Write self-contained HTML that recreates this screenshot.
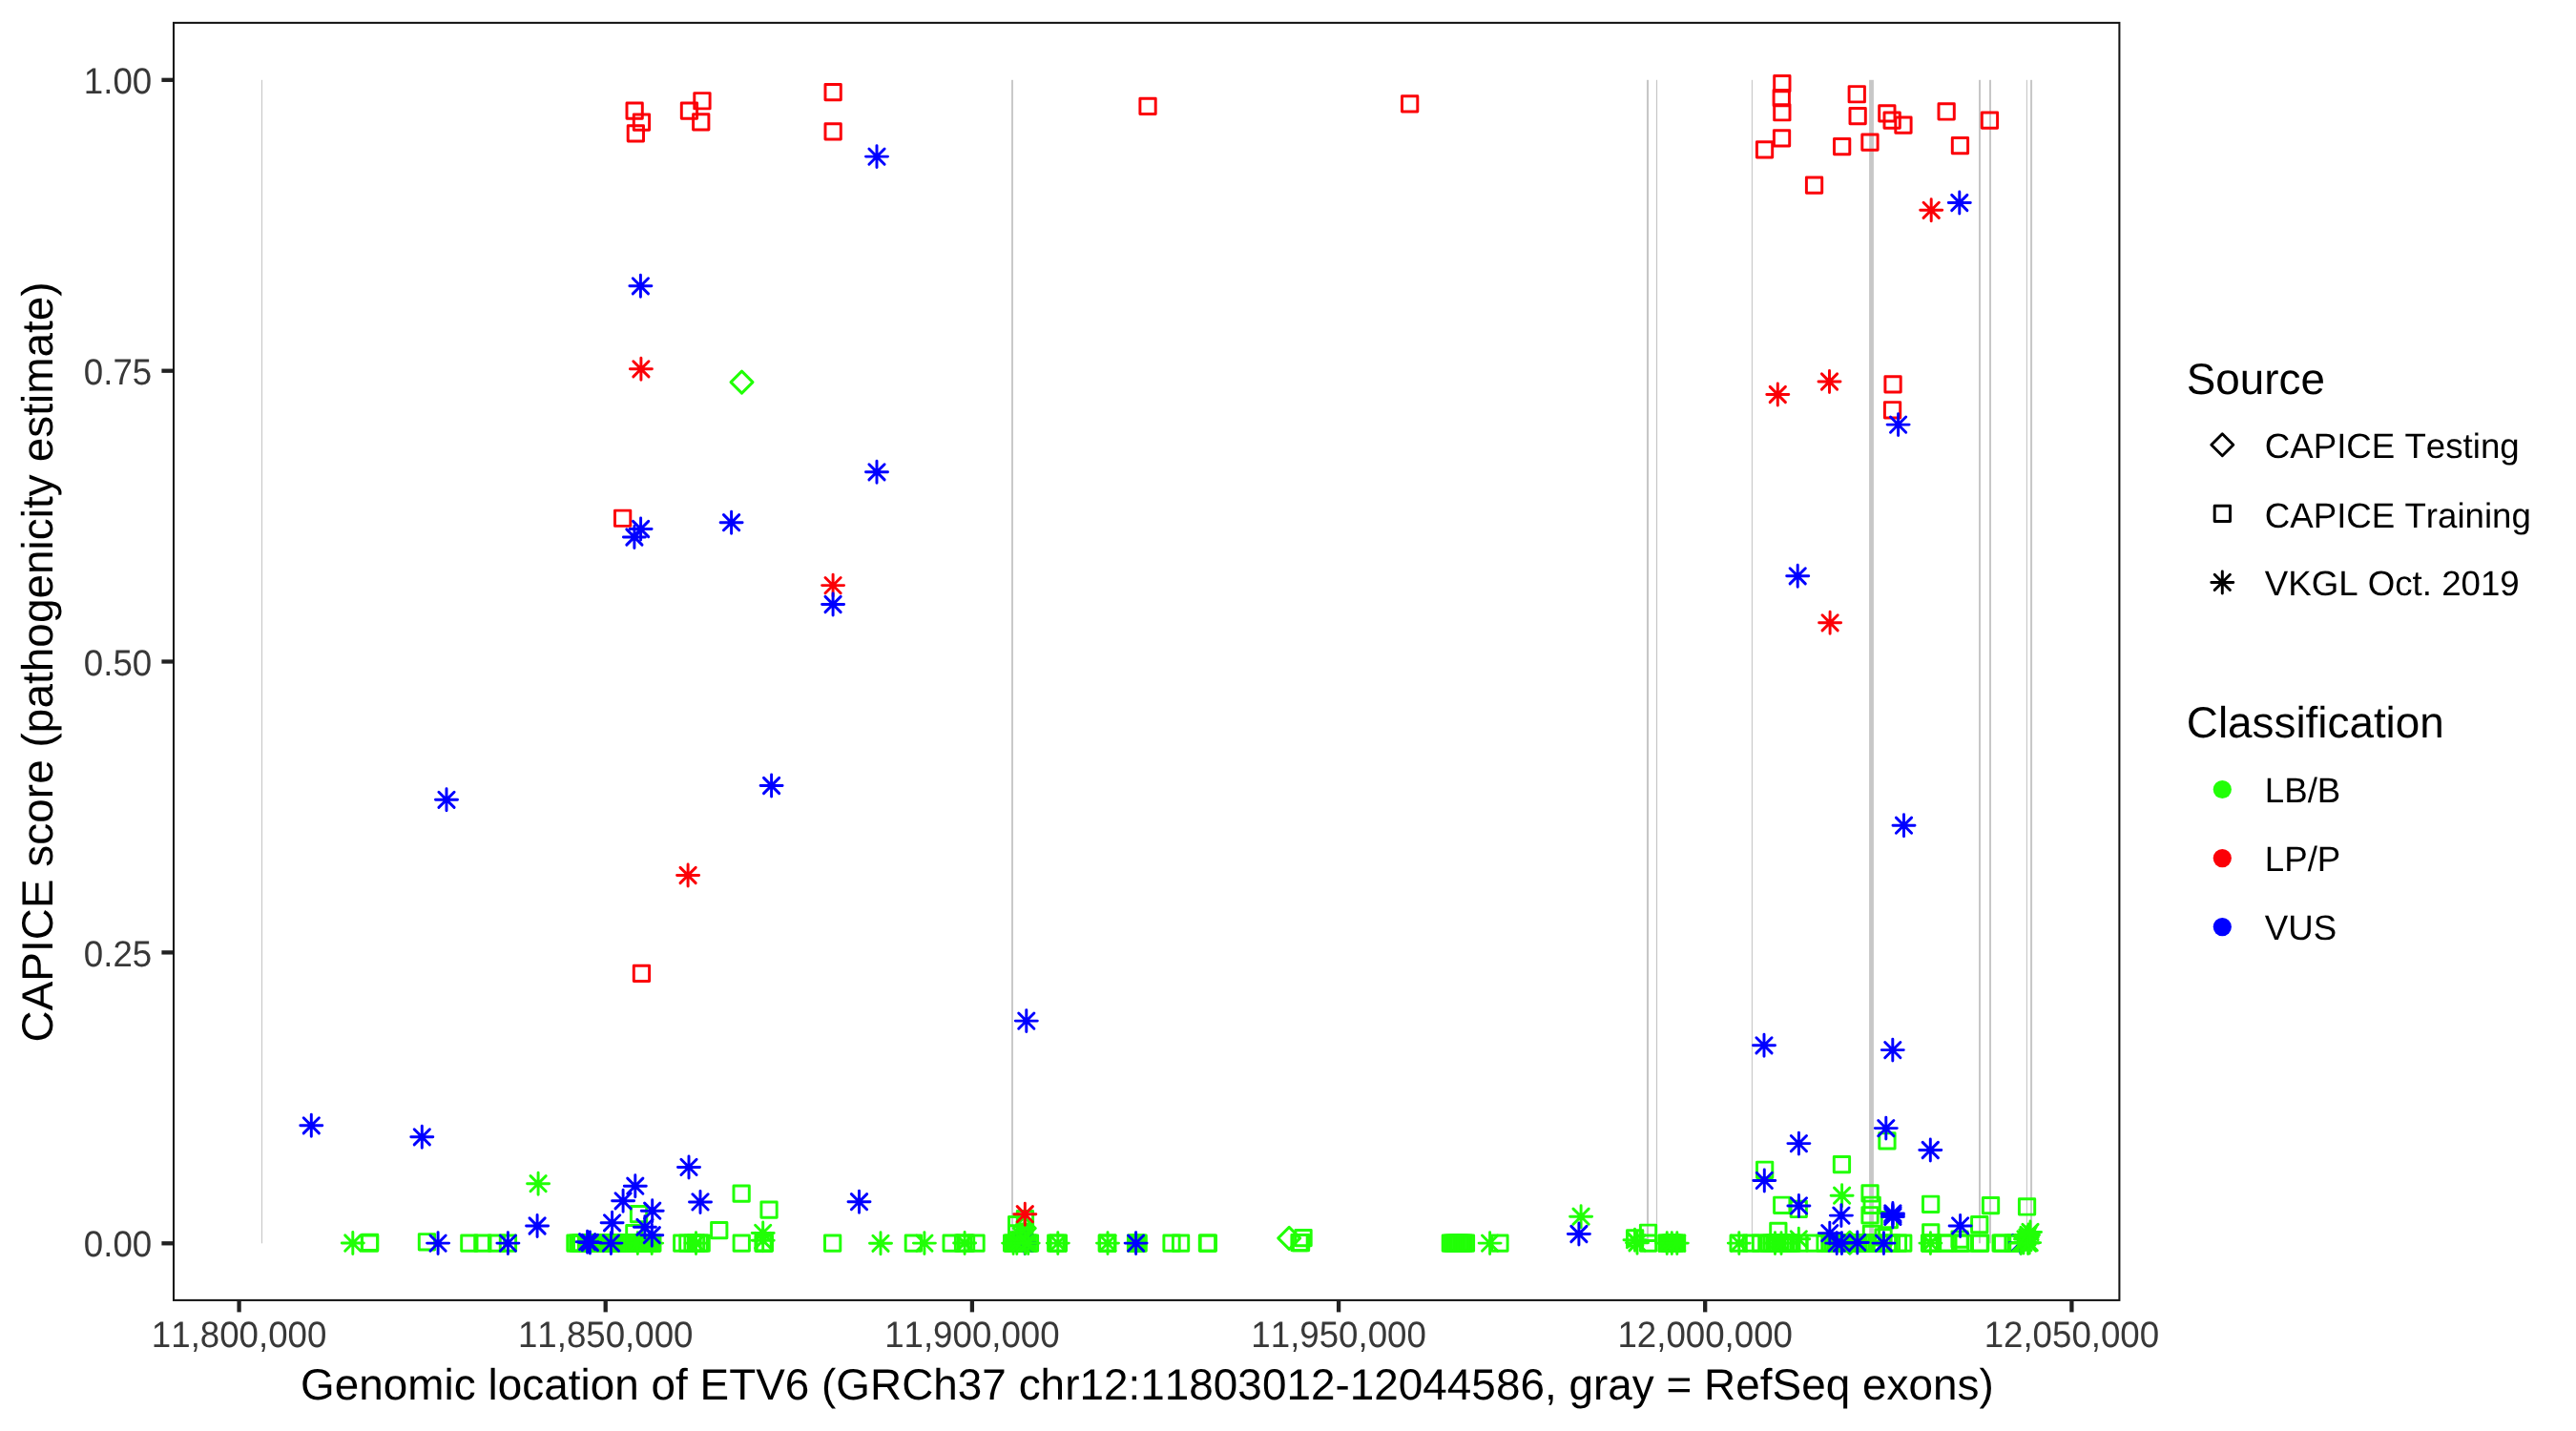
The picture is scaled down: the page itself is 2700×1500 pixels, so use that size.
<!DOCTYPE html>
<html><head><meta charset="utf-8"><title>ETV6 CAPICE</title>
<style>
html,body{margin:0;padding:0;background:#fff}
body{width:2700px;height:1500px;overflow:hidden}
svg{display:block;will-change:transform}
text{font-family:"Liberation Sans",sans-serif;font-kerning:none;font-feature-settings:"kern" 0,"liga" 0;text-rendering:geometricPrecision}
.tk{font-size:36.67px;fill:#383838}
.tt{font-size:45.83px;fill:#000}
.lg{font-size:36.67px;fill:#000}
</style></head><body>
<svg width="2700" height="1500" viewBox="0 0 2700 1500">
<rect width="2700" height="1500" fill="#fff"/>

<g fill="#c7c7c7">
<rect x="273.95" y="83.8" width="1.1" height="1219.5"/>
<rect x="1060.05" y="83.8" width="1.9" height="1219.5"/>
<rect x="1725.95" y="83.8" width="2.1" height="1219.5"/>
<rect x="1735.90" y="83.8" width="1.2" height="1219.5"/>
<rect x="1835.85" y="83.8" width="1.1" height="1219.5"/>
<rect x="1959.10" y="83.8" width="4.8" height="1219.5"/>
<rect x="2074.00" y="83.8" width="2.0" height="1219.5"/>
<rect x="2085.00" y="83.8" width="2.0" height="1219.5"/>
<rect x="2123.85" y="83.8" width="1.1" height="1219.5"/>
<rect x="2128.05" y="83.8" width="2.0" height="1219.5"/>
</g>
<g fill="#21FF06">
<rect x="1064.5" y="1281.5" width="19.0" height="15.5"/>
<rect x="1184.0" y="1295.5" width="17.0" height="15.0"/>
</g>
<g fill="none" stroke-width="2.95" stroke-linecap="round" stroke-linejoin="round">
<rect x="379.4" y="1295.0" width="16.3" height="16.3" stroke="#21FF06"/>
<rect x="483.7" y="1295.0" width="16.3" height="16.3" stroke="#21FF06"/>
<rect x="497.7" y="1295.0" width="16.3" height="16.3" stroke="#21FF06"/>
<rect x="512.4" y="1295.0" width="16.3" height="16.3" stroke="#21FF06"/>
<rect x="524.3" y="1295.0" width="16.3" height="16.3" stroke="#21FF06"/>
<rect x="594.8" y="1295.0" width="16.3" height="16.3" stroke="#21FF06"/>
<rect x="597.7" y="1295.0" width="16.3" height="16.3" stroke="#21FF06"/>
<rect x="600.1" y="1295.0" width="16.3" height="16.3" stroke="#21FF06"/>
<rect x="601.5" y="1295.0" width="16.3" height="16.3" stroke="#21FF06"/>
<rect x="606.4" y="1295.0" width="16.3" height="16.3" stroke="#21FF06"/>
<rect x="608.8" y="1295.0" width="16.3" height="16.3" stroke="#21FF06"/>
<rect x="611.2" y="1295.0" width="16.3" height="16.3" stroke="#21FF06"/>
<rect x="613.6" y="1295.0" width="16.3" height="16.3" stroke="#21FF06"/>
<rect x="616.0" y="1295.0" width="16.3" height="16.3" stroke="#21FF06"/>
<rect x="618.4" y="1295.0" width="16.3" height="16.3" stroke="#21FF06"/>
<rect x="620.8" y="1295.0" width="16.3" height="16.3" stroke="#21FF06"/>
<rect x="623.2" y="1295.0" width="16.3" height="16.3" stroke="#21FF06"/>
<rect x="625.6" y="1295.0" width="16.3" height="16.3" stroke="#21FF06"/>
<rect x="628.0" y="1295.0" width="16.3" height="16.3" stroke="#21FF06"/>
<rect x="630.4" y="1295.0" width="16.3" height="16.3" stroke="#21FF06"/>
<rect x="632.8" y="1295.0" width="16.3" height="16.3" stroke="#21FF06"/>
<rect x="635.2" y="1295.0" width="16.3" height="16.3" stroke="#21FF06"/>
<rect x="637.6" y="1295.0" width="16.3" height="16.3" stroke="#21FF06"/>
<rect x="640.0" y="1295.0" width="16.3" height="16.3" stroke="#21FF06"/>
<rect x="642.4" y="1295.0" width="16.3" height="16.3" stroke="#21FF06"/>
<rect x="644.8" y="1295.0" width="16.3" height="16.3" stroke="#21FF06"/>
<rect x="647.2" y="1295.0" width="16.3" height="16.3" stroke="#21FF06"/>
<rect x="649.6" y="1295.0" width="16.3" height="16.3" stroke="#21FF06"/>
<rect x="652.0" y="1295.0" width="16.3" height="16.3" stroke="#21FF06"/>
<rect x="654.4" y="1295.0" width="16.3" height="16.3" stroke="#21FF06"/>
<rect x="656.8" y="1295.0" width="16.3" height="16.3" stroke="#21FF06"/>
<rect x="659.2" y="1295.0" width="16.3" height="16.3" stroke="#21FF06"/>
<rect x="661.6" y="1295.0" width="16.3" height="16.3" stroke="#21FF06"/>
<rect x="664.0" y="1295.0" width="16.3" height="16.3" stroke="#21FF06"/>
<rect x="666.4" y="1295.0" width="16.3" height="16.3" stroke="#21FF06"/>
<rect x="668.8" y="1295.0" width="16.3" height="16.3" stroke="#21FF06"/>
<rect x="671.2" y="1295.0" width="16.3" height="16.3" stroke="#21FF06"/>
<rect x="673.6" y="1295.0" width="16.3" height="16.3" stroke="#21FF06"/>
<rect x="675.7" y="1295.0" width="16.3" height="16.3" stroke="#21FF06"/>
<rect x="706.6" y="1295.0" width="16.3" height="16.3" stroke="#21FF06"/>
<rect x="712.7" y="1295.0" width="16.3" height="16.3" stroke="#21FF06"/>
<rect x="717.9" y="1295.0" width="16.3" height="16.3" stroke="#21FF06"/>
<rect x="721.4" y="1295.0" width="16.3" height="16.3" stroke="#21FF06"/>
<rect x="724.9" y="1295.0" width="16.3" height="16.3" stroke="#21FF06"/>
<rect x="727.0" y="1295.0" width="16.3" height="16.3" stroke="#21FF06"/>
<rect x="769.1" y="1295.0" width="16.3" height="16.3" stroke="#21FF06"/>
<rect x="791.9" y="1295.0" width="16.3" height="16.3" stroke="#21FF06"/>
<rect x="792.6" y="1295.0" width="16.3" height="16.3" stroke="#21FF06"/>
<rect x="793.2" y="1295.0" width="16.3" height="16.3" stroke="#21FF06"/>
<rect x="864.5" y="1295.0" width="16.3" height="16.3" stroke="#21FF06"/>
<rect x="949.2" y="1295.0" width="16.3" height="16.3" stroke="#21FF06"/>
<rect x="989.0" y="1295.0" width="16.3" height="16.3" stroke="#21FF06"/>
<rect x="1001.4" y="1295.0" width="16.3" height="16.3" stroke="#21FF06"/>
<rect x="1004.4" y="1295.0" width="16.3" height="16.3" stroke="#21FF06"/>
<rect x="1014.9" y="1295.0" width="16.3" height="16.3" stroke="#21FF06"/>
<rect x="1052.5" y="1295.0" width="16.3" height="16.3" stroke="#21FF06"/>
<rect x="1054.8" y="1295.0" width="16.3" height="16.3" stroke="#21FF06"/>
<rect x="1057.2" y="1295.0" width="16.3" height="16.3" stroke="#21FF06"/>
<rect x="1059.5" y="1295.0" width="16.3" height="16.3" stroke="#21FF06"/>
<rect x="1061.9" y="1295.0" width="16.3" height="16.3" stroke="#21FF06"/>
<rect x="1064.2" y="1295.0" width="16.3" height="16.3" stroke="#21FF06"/>
<rect x="1066.6" y="1295.0" width="16.3" height="16.3" stroke="#21FF06"/>
<rect x="1068.9" y="1295.0" width="16.3" height="16.3" stroke="#21FF06"/>
<rect x="1071.3" y="1295.0" width="16.3" height="16.3" stroke="#21FF06"/>
<rect x="1098.6" y="1295.0" width="16.3" height="16.3" stroke="#21FF06"/>
<rect x="1101.2" y="1295.0" width="16.3" height="16.3" stroke="#21FF06"/>
<rect x="1152.1" y="1295.0" width="16.3" height="16.3" stroke="#21FF06"/>
<rect x="1152.7" y="1295.0" width="16.3" height="16.3" stroke="#21FF06"/>
<rect x="1182.4" y="1295.0" width="16.3" height="16.3" stroke="#21FF06"/>
<rect x="1183.9" y="1295.0" width="16.3" height="16.3" stroke="#21FF06"/>
<rect x="1185.0" y="1295.0" width="16.3" height="16.3" stroke="#21FF06"/>
<rect x="1219.9" y="1295.0" width="16.3" height="16.3" stroke="#21FF06"/>
<rect x="1229.4" y="1295.0" width="16.3" height="16.3" stroke="#21FF06"/>
<rect x="1257.3" y="1295.0" width="16.3" height="16.3" stroke="#21FF06"/>
<rect x="1258.2" y="1295.0" width="16.3" height="16.3" stroke="#21FF06"/>
<rect x="1563.8" y="1295.0" width="16.3" height="16.3" stroke="#21FF06"/>
<rect x="1512.2" y="1295.0" width="16.3" height="16.3" stroke="#21FF06"/>
<rect x="1514.5" y="1295.0" width="16.3" height="16.3" stroke="#21FF06"/>
<rect x="1516.8" y="1295.0" width="16.3" height="16.3" stroke="#21FF06"/>
<rect x="1519.1" y="1295.0" width="16.3" height="16.3" stroke="#21FF06"/>
<rect x="1521.4" y="1295.0" width="16.3" height="16.3" stroke="#21FF06"/>
<rect x="1523.7" y="1295.0" width="16.3" height="16.3" stroke="#21FF06"/>
<rect x="1526.0" y="1295.0" width="16.3" height="16.3" stroke="#21FF06"/>
<rect x="1528.3" y="1295.0" width="16.3" height="16.3" stroke="#21FF06"/>
<rect x="1719.4" y="1295.0" width="16.3" height="16.3" stroke="#21FF06"/>
<rect x="1738.9" y="1295.0" width="16.3" height="16.3" stroke="#21FF06"/>
<rect x="1741.0" y="1295.0" width="16.3" height="16.3" stroke="#21FF06"/>
<rect x="1743.1" y="1295.0" width="16.3" height="16.3" stroke="#21FF06"/>
<rect x="1745.2" y="1295.0" width="16.3" height="16.3" stroke="#21FF06"/>
<rect x="1747.3" y="1295.0" width="16.3" height="16.3" stroke="#21FF06"/>
<rect x="1749.4" y="1295.0" width="16.3" height="16.3" stroke="#21FF06"/>
<rect x="1814.0" y="1295.0" width="16.3" height="16.3" stroke="#21FF06"/>
<rect x="1827.4" y="1295.0" width="16.3" height="16.3" stroke="#21FF06"/>
<rect x="1837.3" y="1295.0" width="16.3" height="16.3" stroke="#21FF06"/>
<rect x="1845.7" y="1295.0" width="16.3" height="16.3" stroke="#21FF06"/>
<rect x="1848.7" y="1295.0" width="16.3" height="16.3" stroke="#21FF06"/>
<rect x="1851.7" y="1295.0" width="16.3" height="16.3" stroke="#21FF06"/>
<rect x="1854.7" y="1295.0" width="16.3" height="16.3" stroke="#21FF06"/>
<rect x="1857.7" y="1295.0" width="16.3" height="16.3" stroke="#21FF06"/>
<rect x="1860.7" y="1295.0" width="16.3" height="16.3" stroke="#21FF06"/>
<rect x="1863.7" y="1295.0" width="16.3" height="16.3" stroke="#21FF06"/>
<rect x="1866.7" y="1295.0" width="16.3" height="16.3" stroke="#21FF06"/>
<rect x="1869.7" y="1295.0" width="16.3" height="16.3" stroke="#21FF06"/>
<rect x="1877.8" y="1295.0" width="16.3" height="16.3" stroke="#21FF06"/>
<rect x="1893.8" y="1295.0" width="16.3" height="16.3" stroke="#21FF06"/>
<rect x="1904.9" y="1295.0" width="16.3" height="16.3" stroke="#21FF06"/>
<rect x="1909.9" y="1295.0" width="16.3" height="16.3" stroke="#21FF06"/>
<rect x="1912.9" y="1295.0" width="16.3" height="16.3" stroke="#21FF06"/>
<rect x="1915.6" y="1295.0" width="16.3" height="16.3" stroke="#21FF06"/>
<rect x="1918.3" y="1295.0" width="16.3" height="16.3" stroke="#21FF06"/>
<rect x="1921.0" y="1295.0" width="16.3" height="16.3" stroke="#21FF06"/>
<rect x="1923.7" y="1295.0" width="16.3" height="16.3" stroke="#21FF06"/>
<rect x="1926.4" y="1295.0" width="16.3" height="16.3" stroke="#21FF06"/>
<rect x="1929.1" y="1295.0" width="16.3" height="16.3" stroke="#21FF06"/>
<rect x="1931.8" y="1295.0" width="16.3" height="16.3" stroke="#21FF06"/>
<rect x="1934.5" y="1295.0" width="16.3" height="16.3" stroke="#21FF06"/>
<rect x="1937.2" y="1295.0" width="16.3" height="16.3" stroke="#21FF06"/>
<rect x="1939.9" y="1295.0" width="16.3" height="16.3" stroke="#21FF06"/>
<rect x="1942.6" y="1295.0" width="16.3" height="16.3" stroke="#21FF06"/>
<rect x="1945.3" y="1295.0" width="16.3" height="16.3" stroke="#21FF06"/>
<rect x="1948.0" y="1295.0" width="16.3" height="16.3" stroke="#21FF06"/>
<rect x="1953.9" y="1295.0" width="16.3" height="16.3" stroke="#21FF06"/>
<rect x="1961.7" y="1295.0" width="16.3" height="16.3" stroke="#21FF06"/>
<rect x="1971.4" y="1295.0" width="16.3" height="16.3" stroke="#21FF06"/>
<rect x="1974.3" y="1295.0" width="16.3" height="16.3" stroke="#21FF06"/>
<rect x="1981.3" y="1295.0" width="16.3" height="16.3" stroke="#21FF06"/>
<rect x="1986.6" y="1295.0" width="16.3" height="16.3" stroke="#21FF06"/>
<rect x="2014.4" y="1295.0" width="16.3" height="16.3" stroke="#21FF06"/>
<rect x="2015.4" y="1295.0" width="16.3" height="16.3" stroke="#21FF06"/>
<rect x="2017.4" y="1295.0" width="16.3" height="16.3" stroke="#21FF06"/>
<rect x="2030.4" y="1295.0" width="16.3" height="16.3" stroke="#21FF06"/>
<rect x="2033.3" y="1295.0" width="16.3" height="16.3" stroke="#21FF06"/>
<rect x="2046.5" y="1295.0" width="16.3" height="16.3" stroke="#21FF06"/>
<rect x="2050.0" y="1295.0" width="16.3" height="16.3" stroke="#21FF06"/>
<rect x="2066.9" y="1295.0" width="16.3" height="16.3" stroke="#21FF06"/>
<rect x="2067.5" y="1295.0" width="16.3" height="16.3" stroke="#21FF06"/>
<rect x="2089.0" y="1295.0" width="16.3" height="16.3" stroke="#21FF06"/>
<rect x="2090.5" y="1295.0" width="16.3" height="16.3" stroke="#21FF06"/>
<rect x="2101.9" y="1295.0" width="16.3" height="16.3" stroke="#21FF06"/>
<rect x="2104.9" y="1295.0" width="16.3" height="16.3" stroke="#21FF06"/>
<rect x="1353.9" y="1294.4" width="16.3" height="16.3" stroke="#21FF06"/>
<rect x="1355.4" y="1294.4" width="16.3" height="16.3" stroke="#21FF06"/>
<path d="M1066.1 1295.0L1082.3 1311.2M1066.1 1311.2L1082.3 1295.0M1062.7 1303.1L1085.7 1303.1M1074.2 1291.6L1074.2 1314.6" stroke="#0000FF"/>
<rect x="439.3" y="1293.6" width="16.3" height="16.3" stroke="#21FF06"/>
<rect x="661.4" y="1264.4" width="16.3" height="16.3" stroke="#21FF06"/>
<rect x="656.7" y="1284.5" width="16.3" height="16.3" stroke="#21FF06"/>
<rect x="769.0" y="1243.0" width="16.3" height="16.3" stroke="#21FF06"/>
<rect x="797.9" y="1260.0" width="16.3" height="16.3" stroke="#21FF06"/>
<rect x="745.6" y="1281.5" width="16.3" height="16.3" stroke="#21FF06"/>
<rect x="1057.5" y="1275.5" width="16.3" height="16.3" stroke="#21FF06"/>
<rect x="1057.5" y="1284.7" width="16.3" height="16.3" stroke="#21FF06"/>
<rect x="1066.3" y="1269.4" width="16.3" height="16.3" stroke="#21FF06"/>
<rect x="1357.9" y="1289.4" width="16.3" height="16.3" stroke="#21FF06"/>
<rect x="1705.5" y="1289.7" width="16.3" height="16.3" stroke="#21FF06"/>
<rect x="1719.4" y="1284.1" width="16.3" height="16.3" stroke="#21FF06"/>
<rect x="1855.7" y="1282.3" width="16.3" height="16.3" stroke="#21FF06"/>
<rect x="1841.5" y="1218.1" width="16.3" height="16.3" stroke="#21FF06"/>
<rect x="1859.6" y="1255.1" width="16.3" height="16.3" stroke="#21FF06"/>
<rect x="1877.1" y="1259.3" width="16.3" height="16.3" stroke="#21FF06"/>
<rect x="1922.3" y="1212.5" width="16.3" height="16.3" stroke="#21FF06"/>
<rect x="1951.9" y="1242.8" width="16.3" height="16.3" stroke="#21FF06"/>
<rect x="1954.0" y="1255.1" width="16.3" height="16.3" stroke="#21FF06"/>
<rect x="1951.9" y="1265.6" width="16.3" height="16.3" stroke="#21FF06"/>
<rect x="1953.3" y="1285.2" width="16.3" height="16.3" stroke="#21FF06"/>
<rect x="1965.9" y="1288.7" width="16.3" height="16.3" stroke="#21FF06"/>
<rect x="1969.8" y="1187.7" width="16.3" height="16.3" stroke="#21FF06"/>
<rect x="1972.2" y="1270.5" width="16.3" height="16.3" stroke="#21FF06"/>
<rect x="2015.5" y="1254.1" width="16.3" height="16.3" stroke="#21FF06"/>
<rect x="2015.6" y="1283.7" width="16.3" height="16.3" stroke="#21FF06"/>
<rect x="2045.9" y="1290.9" width="16.3" height="16.3" stroke="#21FF06"/>
<rect x="2066.6" y="1275.5" width="16.3" height="16.3" stroke="#21FF06"/>
<rect x="2078.4" y="1255.4" width="16.3" height="16.3" stroke="#21FF06"/>
<rect x="2116.4" y="1256.8" width="16.3" height="16.3" stroke="#21FF06"/>
<rect x="379.4" y="1294.2" width="16.3" height="16.3" stroke="#21FF06"/>
<path d="M766.0 400.6L777.5 389.1L789.0 400.6L777.5 412.1Z" stroke="#21FF06"/>
<path d="M1339.7 1297.9L1351.2 1286.4L1362.7 1297.9L1351.2 1309.4Z" stroke="#21FF06"/>
<path d="M1062.3 1287.5L1073.8 1276.0L1085.3 1287.5L1073.8 1299.0Z" stroke="#21FF06"/>
<path d="M1927.3 1302.6L1938.8 1291.1L1950.3 1302.6L1938.8 1314.1Z" stroke="#21FF06"/>
<path d="M556.0 1232.6L572.2 1248.8M556.0 1248.8L572.2 1232.6M552.6 1240.7L575.6 1240.7M564.1 1229.2L564.1 1252.2" stroke="#21FF06"/>
<path d="M361.7 1294.9L377.9 1311.2M361.7 1311.2L377.9 1294.9M358.3 1303.0L381.3 1303.0M369.8 1291.5L369.8 1314.5" stroke="#21FF06"/>
<path d="M660.2 1295.0L676.4 1311.2M660.2 1311.2L676.4 1295.0M656.8 1303.1L679.8 1303.1M668.3 1291.6L668.3 1314.6" stroke="#21FF06"/>
<path d="M675.1 1295.0L691.3 1311.2M675.1 1311.2L691.3 1295.0M671.7 1303.1L694.7 1303.1M683.2 1291.6L683.2 1314.6" stroke="#21FF06"/>
<path d="M721.4 1295.0L737.6 1311.2M721.4 1311.2L737.6 1295.0M718.0 1303.1L741.0 1303.1M729.5 1291.6L729.5 1314.6" stroke="#21FF06"/>
<path d="M791.6 1284.3L807.8 1300.5M791.6 1300.5L807.8 1284.3M788.2 1292.4L811.2 1292.4M799.7 1280.9L799.7 1303.9" stroke="#21FF06"/>
<path d="M791.6 1292.2L807.8 1308.4M791.6 1308.4L807.8 1292.2M788.2 1300.3L811.2 1300.3M799.7 1288.8L799.7 1311.8" stroke="#21FF06"/>
<path d="M914.9 1295.2L931.1 1311.4M914.9 1311.4L931.1 1295.2M911.5 1303.3L934.5 1303.3M923.0 1291.8L923.0 1314.8" stroke="#21FF06"/>
<path d="M960.8 1295.0L977.0 1311.2M960.8 1311.2L977.0 1295.0M957.4 1303.1L980.4 1303.1M968.9 1291.6L968.9 1314.6" stroke="#21FF06"/>
<path d="M1003.0 1294.9L1019.2 1311.1M1003.0 1311.1L1019.2 1294.9M999.6 1303.0L1022.6 1303.0M1011.1 1291.5L1011.1 1314.5" stroke="#21FF06"/>
<path d="M1054.0 1295.0L1070.2 1311.2M1054.0 1311.2L1070.2 1295.0M1050.6 1303.1L1073.6 1303.1M1062.1 1291.6L1062.1 1314.6" stroke="#21FF06"/>
<path d="M1057.7 1295.0L1073.9 1311.2M1057.7 1311.2L1073.9 1295.0M1054.3 1303.1L1077.3 1303.1M1065.8 1291.6L1065.8 1314.6" stroke="#21FF06"/>
<path d="M1066.4 1295.0L1082.6 1311.2M1066.4 1311.2L1082.6 1295.0M1063.0 1303.1L1086.0 1303.1M1074.5 1291.6L1074.5 1314.6" stroke="#21FF06"/>
<path d="M1069.6 1295.0L1085.8 1311.2M1069.6 1311.2L1085.8 1295.0M1066.2 1303.1L1089.2 1303.1M1077.7 1291.6L1077.7 1314.6" stroke="#21FF06"/>
<path d="M1100.7 1295.0L1116.9 1311.2M1100.7 1311.2L1116.9 1295.0M1097.3 1303.1L1120.3 1303.1M1108.8 1291.6L1108.8 1314.6" stroke="#21FF06"/>
<path d="M1152.9 1295.0L1169.1 1311.2M1152.9 1311.2L1169.1 1295.0M1149.5 1303.1L1172.5 1303.1M1161.0 1291.6L1161.0 1314.6" stroke="#21FF06"/>
<path d="M1553.5 1295.0L1569.7 1311.2M1553.5 1311.2L1569.7 1295.0M1550.1 1303.1L1573.1 1303.1M1561.6 1291.6L1561.6 1314.6" stroke="#21FF06"/>
<path d="M1649.0 1267.1L1665.2 1283.3M1649.0 1283.3L1665.2 1267.1M1645.6 1275.2L1668.6 1275.2M1657.1 1263.7L1657.1 1286.7" stroke="#21FF06"/>
<path d="M1705.4 1291.6L1721.6 1307.8M1705.4 1307.8L1721.6 1291.6M1702.0 1299.7L1725.0 1299.7M1713.5 1288.2L1713.5 1311.2" stroke="#21FF06"/>
<path d="M1707.9 1294.7L1724.1 1310.9M1707.9 1310.9L1724.1 1294.7M1704.5 1302.8L1727.5 1302.8M1716.0 1291.3L1716.0 1314.3" stroke="#21FF06"/>
<path d="M1739.1 1295.0L1755.3 1311.2M1739.1 1311.2L1755.3 1295.0M1735.7 1303.1L1758.7 1303.1M1747.2 1291.6L1747.2 1314.6" stroke="#21FF06"/>
<path d="M1744.2 1295.0L1760.4 1311.2M1744.2 1311.2L1760.4 1295.0M1740.8 1303.1L1763.8 1303.1M1752.3 1291.6L1752.3 1314.6" stroke="#21FF06"/>
<path d="M1749.7 1295.0L1765.9 1311.2M1749.7 1311.2L1765.9 1295.0M1746.3 1303.1L1769.3 1303.1M1757.8 1291.6L1757.8 1314.6" stroke="#21FF06"/>
<path d="M1814.7 1295.0L1830.9 1311.2M1814.7 1311.2L1830.9 1295.0M1811.3 1303.1L1834.3 1303.1M1822.8 1291.6L1822.8 1314.6" stroke="#21FF06"/>
<path d="M1852.4 1295.0L1868.6 1311.2M1852.4 1311.2L1868.6 1295.0M1849.0 1303.1L1872.0 1303.1M1860.5 1291.6L1860.5 1314.6" stroke="#21FF06"/>
<path d="M1858.9 1295.0L1875.1 1311.2M1858.9 1311.2L1875.1 1295.0M1855.5 1303.1L1878.5 1303.1M1867.0 1291.6L1867.0 1314.6" stroke="#21FF06"/>
<path d="M1877.2 1290.7L1893.4 1306.9M1877.2 1306.9L1893.4 1290.7M1873.8 1298.8L1896.8 1298.8M1885.3 1287.3L1885.3 1310.3" stroke="#21FF06"/>
<path d="M1922.5 1245.1L1938.7 1261.3M1922.5 1261.3L1938.7 1245.1M1919.1 1253.2L1942.1 1253.2M1930.6 1241.7L1930.6 1264.7" stroke="#21FF06"/>
<path d="M2015.3 1295.0L2031.5 1311.2M2015.3 1311.2L2031.5 1295.0M2011.9 1303.1L2034.9 1303.1M2023.4 1291.6L2023.4 1314.6" stroke="#21FF06"/>
<path d="M2109.8 1294.3L2126.0 1310.5M2109.8 1310.5L2126.0 1294.3M2106.4 1302.4L2129.4 1302.4M2117.9 1290.9L2117.9 1313.9" stroke="#0000FF"/>
<path d="M2110.2 1294.8L2126.4 1311.0M2110.2 1311.0L2126.4 1294.8M2106.8 1302.9L2129.8 1302.9M2118.3 1291.4L2118.3 1314.4" stroke="#21FF06"/>
<path d="M2112.9 1294.4L2129.1 1310.6M2112.9 1310.6L2129.1 1294.4M2109.5 1302.5L2132.5 1302.5M2121.0 1291.0L2121.0 1314.0" stroke="#21FF06"/>
<path d="M2114.9 1290.9L2131.1 1307.1M2114.9 1307.1L2131.1 1290.9M2111.5 1299.0L2134.5 1299.0M2123.0 1287.5L2123.0 1310.5" stroke="#21FF06"/>
<path d="M2116.8 1288.7L2133.0 1304.9M2116.8 1304.9L2133.0 1288.7M2113.4 1296.8L2136.4 1296.8M2124.9 1285.3L2124.9 1308.3" stroke="#21FF06"/>
<path d="M2117.5 1294.9L2133.7 1311.1M2117.5 1311.1L2133.7 1294.9M2114.1 1303.0L2137.1 1303.0M2125.6 1291.5L2125.6 1314.5" stroke="#21FF06"/>
<path d="M2119.1 1294.5L2135.3 1310.7M2119.1 1310.7L2135.3 1294.5M2115.7 1302.6L2138.7 1302.6M2127.2 1291.1L2127.2 1314.1" stroke="#21FF06"/>
<path d="M2117.9 1286.4L2134.1 1302.6M2117.9 1302.6L2134.1 1286.4M2114.5 1294.5L2137.5 1294.5M2126.0 1283.0L2126.0 1306.0" stroke="#21FF06"/>
<path d="M2119.9 1283.4L2136.1 1299.6M2119.9 1299.6L2136.1 1283.4M2116.5 1291.5L2139.5 1291.5M2128.0 1280.0L2128.0 1303.0" stroke="#21FF06"/>
<rect x="657.0" y="107.9" width="16.3" height="16.3" stroke="#FB0007"/>
<rect x="664.3" y="119.9" width="16.3" height="16.3" stroke="#FB0007"/>
<rect x="658.2" y="131.7" width="16.3" height="16.3" stroke="#FB0007"/>
<rect x="714.3" y="107.9" width="16.3" height="16.3" stroke="#FB0007"/>
<rect x="727.8" y="97.6" width="16.3" height="16.3" stroke="#FB0007"/>
<rect x="726.6" y="119.7" width="16.3" height="16.3" stroke="#FB0007"/>
<rect x="865.0" y="88.4" width="16.3" height="16.3" stroke="#FB0007"/>
<rect x="865.0" y="129.7" width="16.3" height="16.3" stroke="#FB0007"/>
<rect x="1194.9" y="103.2" width="16.3" height="16.3" stroke="#FB0007"/>
<rect x="1469.5" y="100.7" width="16.3" height="16.3" stroke="#FB0007"/>
<rect x="1859.7" y="79.4" width="16.3" height="16.3" stroke="#FB0007"/>
<rect x="1859.1" y="94.5" width="16.3" height="16.3" stroke="#FB0007"/>
<rect x="1859.7" y="109.6" width="16.3" height="16.3" stroke="#FB0007"/>
<rect x="1859.4" y="136.7" width="16.3" height="16.3" stroke="#FB0007"/>
<rect x="1841.4" y="148.7" width="16.3" height="16.3" stroke="#FB0007"/>
<rect x="1938.1" y="90.6" width="16.3" height="16.3" stroke="#FB0007"/>
<rect x="1939.0" y="113.5" width="16.3" height="16.3" stroke="#FB0007"/>
<rect x="1922.5" y="145.4" width="16.3" height="16.3" stroke="#FB0007"/>
<rect x="1951.8" y="140.9" width="16.3" height="16.3" stroke="#FB0007"/>
<rect x="1969.7" y="110.7" width="16.3" height="16.3" stroke="#FB0007"/>
<rect x="1975.0" y="118.0" width="16.3" height="16.3" stroke="#FB0007"/>
<rect x="1986.8" y="123.0" width="16.3" height="16.3" stroke="#FB0007"/>
<rect x="2032.0" y="108.8" width="16.3" height="16.3" stroke="#FB0007"/>
<rect x="2046.3" y="144.5" width="16.3" height="16.3" stroke="#FB0007"/>
<rect x="2077.3" y="118.0" width="16.3" height="16.3" stroke="#FB0007"/>
<rect x="1893.4" y="185.9" width="16.3" height="16.3" stroke="#FB0007"/>
<rect x="1975.9" y="394.7" width="16.3" height="16.3" stroke="#FB0007"/>
<rect x="1975.4" y="421.6" width="16.3" height="16.3" stroke="#FB0007"/>
<rect x="644.5" y="535.1" width="16.3" height="16.3" stroke="#FB0007"/>
<rect x="664.3" y="1012.2" width="16.3" height="16.3" stroke="#FB0007"/>
<path d="M663.8 378.7L680.0 394.9M663.8 394.9L680.0 378.7M660.4 386.8L683.4 386.8M671.9 375.3L671.9 398.3" stroke="#FB0007"/>
<path d="M865.0 605.5L881.2 621.7M865.0 621.7L881.2 605.5M861.6 613.6L884.6 613.6M873.1 602.1L873.1 625.1" stroke="#FB0007"/>
<path d="M713.0 909.4L729.2 925.6M713.0 925.6L729.2 909.4M709.6 917.5L732.6 917.5M721.1 906.0L721.1 929.0" stroke="#FB0007"/>
<path d="M2016.1 212.2L2032.3 228.4M2016.1 228.4L2032.3 212.2M2012.7 220.3L2035.7 220.3M2024.2 208.8L2024.2 231.8" stroke="#FB0007"/>
<path d="M1855.2 405.4L1871.4 421.6M1855.2 421.6L1871.4 405.4M1851.8 413.5L1874.8 413.5M1863.3 402.0L1863.3 425.0" stroke="#FB0007"/>
<path d="M1909.4 391.9L1925.6 408.1M1909.4 408.1L1925.6 391.9M1906.0 400.0L1929.0 400.0M1917.5 388.5L1917.5 411.5" stroke="#FB0007"/>
<path d="M1910.0 644.7L1926.2 660.9M1910.0 660.9L1926.2 644.7M1906.6 652.8L1929.6 652.8M1918.1 641.3L1918.1 664.3" stroke="#FB0007"/>
<path d="M1066.2 1264.6L1082.4 1280.8M1066.2 1280.8L1082.4 1264.6M1062.8 1272.7L1085.8 1272.7M1074.3 1261.2L1074.3 1284.2" stroke="#FB0007"/>
<path d="M910.9 156.0L927.1 172.2M910.9 172.2L927.1 156.0M907.5 164.1L930.5 164.1M919.0 152.6L919.0 175.6" stroke="#0000FF"/>
<path d="M663.3 291.7L679.5 307.9M663.3 307.9L679.5 291.7M659.9 299.8L682.9 299.8M671.4 288.3L671.4 311.3" stroke="#0000FF"/>
<path d="M910.9 486.7L927.1 502.9M910.9 502.9L927.1 486.7M907.5 494.8L930.5 494.8M919.0 483.3L919.0 506.3" stroke="#0000FF"/>
<path d="M663.5 546.4L679.7 562.6M663.5 562.6L679.7 546.4M660.1 554.5L683.1 554.5M671.6 543.0L671.6 566.0" stroke="#0000FF"/>
<path d="M656.8 554.9L673.0 571.1M656.8 571.1L673.0 554.9M653.4 563.0L676.4 563.0M664.9 551.5L664.9 574.5" stroke="#0000FF"/>
<path d="M758.5 539.6L774.7 555.8M758.5 555.8L774.7 539.6M755.1 547.7L778.1 547.7M766.6 536.2L766.6 559.2" stroke="#0000FF"/>
<path d="M865.0 625.4L881.2 641.6M865.0 641.6L881.2 625.4M861.6 633.5L884.6 633.5M873.1 622.0L873.1 645.0" stroke="#0000FF"/>
<path d="M800.5 815.4L816.7 831.6M800.5 831.6L816.7 815.4M797.1 823.5L820.1 823.5M808.6 812.0L808.6 835.0" stroke="#0000FF"/>
<path d="M459.9 830.2L476.1 846.4M459.9 846.4L476.1 830.2M456.5 838.3L479.5 838.3M468.0 826.8L468.0 849.8" stroke="#0000FF"/>
<path d="M1067.7 1062.0L1083.9 1078.2M1067.7 1078.2L1083.9 1062.0M1064.3 1070.1L1087.3 1070.1M1075.8 1058.6L1075.8 1081.6" stroke="#0000FF"/>
<path d="M2045.7 204.4L2061.9 220.6M2045.7 220.6L2061.9 204.4M2042.3 212.5L2065.3 212.5M2053.8 201.0L2053.8 224.0" stroke="#0000FF"/>
<path d="M1981.5 437.0L1997.7 453.2M1981.5 453.2L1997.7 437.0M1978.1 445.1L2001.1 445.1M1989.6 433.6L1989.6 456.6" stroke="#0000FF"/>
<path d="M1876.1 595.7L1892.3 611.9M1876.1 611.9L1892.3 595.7M1872.7 603.8L1895.7 603.8M1884.2 592.3L1884.2 615.3" stroke="#0000FF"/>
<path d="M1987.4 857.1L2003.6 873.3M1987.4 873.3L2003.6 857.1M1984.0 865.2L2007.0 865.2M1995.5 853.7L1995.5 876.7" stroke="#0000FF"/>
<path d="M1840.9 1087.7L1857.1 1103.9M1840.9 1103.9L1857.1 1087.7M1837.5 1095.8L1860.5 1095.8M1849.0 1084.3L1849.0 1107.3" stroke="#0000FF"/>
<path d="M1975.7 1092.5L1991.9 1108.7M1975.7 1108.7L1991.9 1092.5M1972.3 1100.6L1995.3 1100.6M1983.8 1089.1L1983.8 1112.1" stroke="#0000FF"/>
<path d="M318.2 1171.7L334.4 1187.9M318.2 1187.9L334.4 1171.7M314.8 1179.8L337.8 1179.8M326.3 1168.3L326.3 1191.3" stroke="#0000FF"/>
<path d="M434.2 1183.7L450.4 1199.9M434.2 1199.9L450.4 1183.7M430.8 1191.8L453.8 1191.8M442.3 1180.3L442.3 1203.3" stroke="#0000FF"/>
<path d="M555.0 1276.9L571.2 1293.1M555.0 1293.1L571.2 1276.9M551.6 1285.0L574.6 1285.0M563.1 1273.5L563.1 1296.5" stroke="#0000FF"/>
<path d="M451.0 1295.0L467.2 1311.2M451.0 1311.2L467.2 1295.0M447.6 1303.1L470.6 1303.1M459.1 1291.6L459.1 1314.6" stroke="#0000FF"/>
<path d="M524.3 1295.0L540.5 1311.2M524.3 1311.2L540.5 1295.0M520.9 1303.1L543.9 1303.1M532.4 1291.6L532.4 1314.6" stroke="#0000FF"/>
<path d="M607.5 1293.6L623.7 1309.8M607.5 1309.8L623.7 1293.6M604.1 1301.7L627.1 1301.7M615.6 1290.2L615.6 1313.2" stroke="#0000FF"/>
<path d="M610.3 1294.4L626.5 1310.6M610.3 1310.6L626.5 1294.4M606.9 1302.5L629.9 1302.5M618.4 1291.0L618.4 1314.0" stroke="#0000FF"/>
<path d="M632.3 1295.0L648.5 1311.2M632.3 1311.2L648.5 1295.0M628.9 1303.1L651.9 1303.1M640.4 1291.6L640.4 1314.6" stroke="#0000FF"/>
<path d="M633.5 1273.7L649.7 1289.9M633.5 1289.9L649.7 1273.7M630.1 1281.8L653.1 1281.8M641.6 1270.3L641.6 1293.3" stroke="#0000FF"/>
<path d="M645.0 1250.7L661.2 1266.9M645.0 1266.9L661.2 1250.7M641.6 1258.8L664.6 1258.8M653.1 1247.3L653.1 1270.3" stroke="#0000FF"/>
<path d="M657.7 1235.1L673.9 1251.3M657.7 1251.3L673.9 1235.1M654.3 1243.2L677.3 1243.2M665.8 1231.7L665.8 1254.7" stroke="#0000FF"/>
<path d="M675.6 1261.1L691.8 1277.3M675.6 1277.3L691.8 1261.1M672.2 1269.2L695.2 1269.2M683.7 1257.7L683.7 1280.7" stroke="#0000FF"/>
<path d="M667.8 1278.2L684.0 1294.4M667.8 1294.4L684.0 1278.2M664.4 1286.3L687.4 1286.3M675.9 1274.8L675.9 1297.8" stroke="#0000FF"/>
<path d="M675.2 1286.6L691.4 1302.8M675.2 1302.8L691.4 1286.6M671.8 1294.7L694.8 1294.7M683.3 1283.2L683.3 1306.2" stroke="#0000FF"/>
<path d="M713.9 1215.3L730.1 1231.5M713.9 1231.5L730.1 1215.3M710.5 1223.4L733.5 1223.4M722.0 1211.9L722.0 1234.9" stroke="#0000FF"/>
<path d="M725.9 1251.8L742.1 1268.0M725.9 1268.0L742.1 1251.8M722.5 1259.9L745.5 1259.9M734.0 1248.4L734.0 1271.4" stroke="#0000FF"/>
<path d="M892.4 1251.6L908.6 1267.8M892.4 1267.8L908.6 1251.6M889.0 1259.7L912.0 1259.7M900.5 1248.2L900.5 1271.2" stroke="#0000FF"/>
<path d="M1182.5 1295.0L1198.7 1311.2M1182.5 1311.2L1198.7 1295.0M1179.1 1303.1L1202.1 1303.1M1190.6 1291.6L1190.6 1314.6" stroke="#0000FF"/>
<path d="M1646.8 1285.4L1663.0 1301.6M1646.8 1301.6L1663.0 1285.4M1643.4 1293.5L1666.4 1293.5M1654.9 1282.0L1654.9 1305.0" stroke="#0000FF"/>
<path d="M1841.2 1229.3L1857.4 1245.5M1841.2 1245.5L1857.4 1229.3M1837.8 1237.4L1860.8 1237.4M1849.3 1225.9L1849.3 1248.9" stroke="#0000FF"/>
<path d="M1877.3 1190.5L1893.5 1206.7M1877.3 1206.7L1893.5 1190.5M1873.9 1198.6L1896.9 1198.6M1885.4 1187.1L1885.4 1210.1" stroke="#0000FF"/>
<path d="M1877.3 1255.8L1893.5 1272.0M1877.3 1272.0L1893.5 1255.8M1873.9 1263.9L1896.9 1263.9M1885.4 1252.4L1885.4 1275.4" stroke="#0000FF"/>
<path d="M1921.8 1266.0L1938.0 1282.2M1921.8 1282.2L1938.0 1266.0M1918.4 1274.1L1941.4 1274.1M1929.9 1262.6L1929.9 1285.6" stroke="#0000FF"/>
<path d="M1909.7 1284.5L1925.9 1300.7M1909.7 1300.7L1925.9 1284.5M1906.3 1292.6L1929.3 1292.6M1917.8 1281.1L1917.8 1304.1" stroke="#0000FF"/>
<path d="M1917.1 1295.0L1933.3 1311.2M1917.1 1311.2L1933.3 1295.0M1913.7 1303.1L1936.7 1303.1M1925.2 1291.6L1925.2 1314.6" stroke="#0000FF"/>
<path d="M1922.3 1295.0L1938.5 1311.2M1922.3 1311.2L1938.5 1295.0M1918.9 1303.1L1941.9 1303.1M1930.4 1291.6L1930.4 1314.6" stroke="#0000FF"/>
<path d="M1938.7 1294.3L1954.9 1310.5M1938.7 1310.5L1954.9 1294.3M1935.3 1302.4L1958.3 1302.4M1946.8 1290.9L1946.8 1313.9" stroke="#0000FF"/>
<path d="M1966.3 1295.0L1982.5 1311.2M1966.3 1311.2L1982.5 1295.0M1962.9 1303.1L1985.9 1303.1M1974.4 1291.6L1974.4 1314.6" stroke="#0000FF"/>
<path d="M1968.7 1174.5L1984.9 1190.7M1968.7 1190.7L1984.9 1174.5M1965.3 1182.6L1988.3 1182.6M1976.8 1171.1L1976.8 1194.1" stroke="#0000FF"/>
<path d="M1975.8 1263.8L1992.0 1280.0M1975.8 1280.0L1992.0 1263.8M1972.4 1271.9L1995.4 1271.9M1983.9 1260.4L1983.9 1283.4" stroke="#0000FF"/>
<path d="M1975.8 1265.5L1992.0 1281.7M1975.8 1281.7L1992.0 1265.5M1972.4 1273.6L1995.4 1273.6M1983.9 1262.1L1983.9 1285.1" stroke="#0000FF"/>
<path d="M1975.8 1267.3L1992.0 1283.5M1975.8 1283.5L1992.0 1267.3M1972.4 1275.4L1995.4 1275.4M1983.9 1263.9L1983.9 1286.9" stroke="#0000FF"/>
<path d="M2015.2 1197.4L2031.4 1213.6M2015.2 1213.6L2031.4 1197.4M2011.8 1205.5L2034.8 1205.5M2023.3 1194.0L2023.3 1217.0" stroke="#0000FF"/>
<path d="M2046.5 1276.8L2062.7 1293.0M2046.5 1293.0L2062.7 1276.8M2043.1 1284.9L2066.1 1284.9M2054.6 1273.4L2054.6 1296.4" stroke="#0000FF"/>
</g>
<rect x="182.0" y="23.9" width="2039.4" height="1339.0" fill="none" stroke="#141414" stroke-width="2.05"/>
<g stroke="#222" stroke-width="4.3">
<line x1="250.6" y1="1363.9" x2="250.6" y2="1375.4"/>
<line x1="634.7" y1="1363.9" x2="634.7" y2="1375.4"/>
<line x1="1018.9" y1="1363.9" x2="1018.9" y2="1375.4"/>
<line x1="1403.1" y1="1363.9" x2="1403.1" y2="1375.4"/>
<line x1="1787.2" y1="1363.9" x2="1787.2" y2="1375.4"/>
<line x1="2171.4" y1="1363.9" x2="2171.4" y2="1375.4"/>
<line x1="169.4" y1="1303.3" x2="181.0" y2="1303.3"/>
<line x1="169.4" y1="998.4" x2="181.0" y2="998.4"/>
<line x1="169.4" y1="693.5" x2="181.0" y2="693.5"/>
<line x1="169.4" y1="388.7" x2="181.0" y2="388.7"/>
<line x1="169.4" y1="83.8" x2="181.0" y2="83.8"/>
</g>
<text class="tk" transform="translate(250.6 1412.3) scale(1 1.05)" text-anchor="middle">11,800,000</text>
<text class="tk" transform="translate(634.7 1412.3) scale(1 1.05)" text-anchor="middle">11,850,000</text>
<text class="tk" transform="translate(1018.9 1412.3) scale(1 1.05)" text-anchor="middle">11,900,000</text>
<text class="tk" transform="translate(1403.1 1412.3) scale(1 1.05)" text-anchor="middle">11,950,000</text>
<text class="tk" transform="translate(1787.2 1412.3) scale(1 1.05)" text-anchor="middle">12,000,000</text>
<text class="tk" transform="translate(2171.4 1412.3) scale(1 1.05)" text-anchor="middle">12,050,000</text>
<text class="tk" transform="translate(159.2 1317.4) scale(1 1.05)" text-anchor="end">0.00</text>
<text class="tk" transform="translate(159.2 1012.5) scale(1 1.05)" text-anchor="end">0.25</text>
<text class="tk" transform="translate(159.2 707.6) scale(1 1.05)" text-anchor="end">0.50</text>
<text class="tk" transform="translate(159.2 402.8) scale(1 1.05)" text-anchor="end">0.75</text>
<text class="tk" transform="translate(159.2 97.9) scale(1 1.05)" text-anchor="end">1.00</text>
<text class="tt" x="1202.4" y="1467.2" text-anchor="middle" style="letter-spacing:0.037px">Genomic location of ETV6 (GRCh37 chr12:11803012-12044586, gray = RefSeq exons)</text>
<text class="tt" transform="translate(55.1 693.9) rotate(-90)" text-anchor="middle" style="letter-spacing:0.068px">CAPICE score (pathogenicity estimate)</text>
<text class="tt" x="2291.8" y="413.1">Source</text>
<text class="tt" x="2291.8" y="773.4">Classification</text>
<text class="lg" x="2373.8" y="480.1">CAPICE Testing</text>
<text class="lg" x="2373.8" y="552.5">CAPICE Training</text>
<text class="lg" x="2373.8" y="623.9">VKGL Oct. 2019</text>
<text class="lg" x="2373.8" y="840.6">LB/B</text>
<text class="lg" x="2373.8" y="912.8">LP/P</text>
<text class="lg" x="2373.8" y="984.9">VUS</text>
<g fill="none" stroke-width="2.95" stroke-linecap="round" stroke-linejoin="round">
<path d="M2317.8 466.2L2329.3 454.7L2340.8 466.2L2329.3 477.7Z" stroke="#000"/>
<rect x="2321.2" y="530.2" width="16.3" height="16.3" stroke="#000"/>
<path d="M2321.2 602.3L2337.4 618.5M2321.2 618.5L2337.4 602.3M2317.8 610.4L2340.8 610.4M2329.3 598.9L2329.3 621.9" stroke="#000"/>
</g>
<circle cx="2329.3" cy="827.5" r="9.6" fill="#21FF06"/>
<circle cx="2329.3" cy="899.6" r="9.6" fill="#FB0007"/>
<circle cx="2329.3" cy="971.6" r="9.6" fill="#0000FF"/>
</svg></body></html>
